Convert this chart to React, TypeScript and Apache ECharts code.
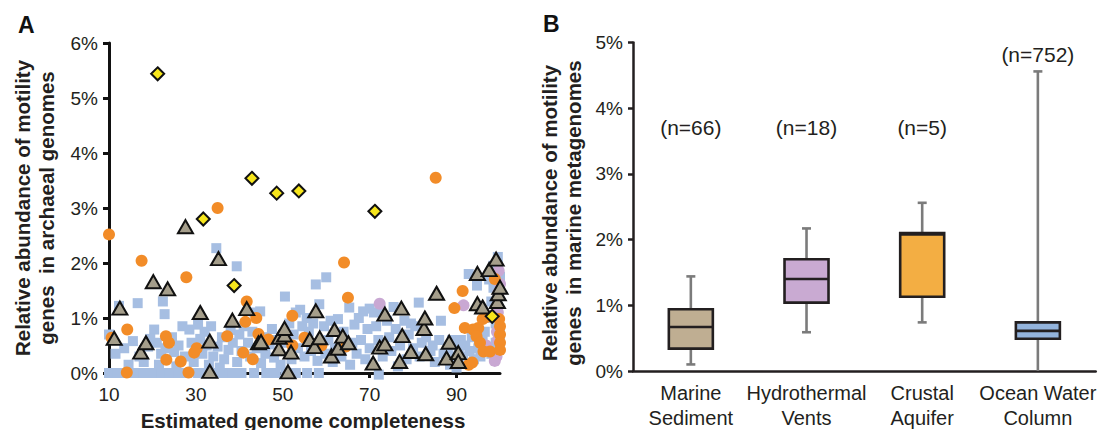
import React, { useEffect, useRef } from "react";
import * as echarts from "echarts";

// ---------- Panel A data: [estimated genome completeness, % motility genes] ----------
const xTickValues = [10, 30, 50, 70, 90];

const blueSquares: number[][] = [
  [10, 0], [12, 0], [14, 0], [16, 0], [18, 0], [20, 0], [22, 0], [24, 0], [26, 0], [28, 0],
  [30.5, 0], [32.5, 0], [34.5, 0], [36.5, 0], [38.5, 0], [40.5, 0], [43.4, 0], [46.2, 0],
  [48.3, 0], [50.6, 0], [53, 0], [55.6, 0], [58.3, 0], [72.1, -0.03],
  [10, 0.7], [12.3, 1.22], [16.6, 1.27], [13.5, 0.45], [15.5, 0.58], [17, 0.3], [19, 0.48],
  [20.4, 0.79], [18, 0.2], [11.5, 0.35], [14.5, 0.15], [19.5, 0.62],
  [22.4, 1.3], [22.8, 1.07], [21, 0.55], [22, 0.35], [23, 0.45], [24.5, 0.65], [25, 0.38],
  [26, 0.5], [26.9, 0.85], [27.5, 0.3], [28.5, 0.79], [29, 0.55], [29.5, 0.2], [21.5, 0.15], [25.5, 0.12],
  [30.5, 0.88], [31, 0.62], [31.5, 0.35], [32, 0.75], [32.5, 0.5], [33.5, 0.85], [34, 0.3],
  [34.7, 2.27], [35, 0.48], [36, 0.65], [36.5, 0.25], [37.5, 0.42], [38, 0.78], [38.5, 0.55],
  [39.4, 1.94], [39.5, 0.2], [40, 0.7], [35.5, 0.1], [33, 0.15],
  [40.5, 0.4], [41, 0.85], [42, 0.55], [42.5, 0.3], [43, 0.75], [43.5, 1.1], [44, 0.45],
  [45, 0.18], [45.5, 0.65], [46, 0.35], [47, 0.52], [47.5, 0.8], [48, 0.28], [48.5, 0.6],
  [49.5, 0.15], [44.8, 1.12],
  [50.5, 1.39], [50.8, 0.55], [51.5, 0.9], [52, 0.25], [52.5, 0.7], [53, 1.1], [53.5, 0.45],
  [54, 1.15], [54.5, 0.85], [55, 0.3], [55.5, 1.0], [56, 0.75], [56.5, 0.4], [57, 0.9],
  [57.6, 1.61], [58, 0.22], [58.4, 1.25], [59, 0.55], [59.5, 0.85], [60, 1.74], [59.8, 0.35],
  [60.5, 0.6], [61, 0.95], [61.5, 0.2], [62, 0.45], [62.7, 0.98], [63.5, 0.3], [64, 0.75],
  [65.3, 1.19], [65.5, 0.15], [66, 0.55], [66.5, 0.88], [67, 0.35], [67.5, 1.0], [68, 0.6],
  [68.5, 1.12], [69, 0.25], [69.5, 0.8], [70, 1.17], [70, 0.45],
  [71, 1.1], [71.5, 0.85], [72, 0.6], [72.5, 1.15], [73, 0.3], [74, 0.95], [74.5, 0.65],
  [75, 0.4], [75.5, 1.2], [76, 0.8], [76.5, 0.12], [77, 0.5], [78, 0.95], [78.5, 0.25],
  [79, 0.7], [80, 0.45], [79.5, 0.9],
  [80.5, 0.85], [81.3, 1.28], [81.5, 0.3], [82, 0.55], [83, 0.65], [84, 0.4], [84.5, 0.5],
  [85, 0.2], [86, 0.6], [86.4, 0.95], [87, 0.35], [88, 0.45], [88.5, 0.15], [89, 0.6],
  [90, 0.1], [89.5, 0.3],
  [90.5, 0.45], [91, 0.6], [91.5, 0.3], [92, 0.5], [92.8, 1.8], [93, 0.4], [93.5, 0.65],
  [94, 0.25], [94.7, 1.59], [95, 0.45], [95.5, 0.3], [96, 0.6], [96.5, 0.75], [97, 0.45],
  [97.5, 1.0], [97.5, 1.7], [98, 0.35], [98, 1.3], [98.5, 1.55], [99, 0.55], [99, 0.9],
  [99.5, 2.11], [99.5, 1.86], [99.5, 1.2], [100, 0.7], [100, 1.75], [98.5, 1.95],
];

const lilacCircles: number[][] = [
  [72.3, 1.26], [91.6, 1.23], [99.7, 1.86], [100, 1.62], [99.6, 1.45], [99.5, 1.1],
  [99.3, 0.75], [96.8, 0.5], [99.2, 0.3], [98.8, 0.22], [99.5, 0.6],
];

const orangeCircles: number[][] = [
  [10, 2.52], [35, 3.0], [85.2, 3.55], [17.5, 2.04], [27.8, 1.74], [41.7, 1.3], [43.9, 1.0],
  [41.4, 0.93], [52.2, 1.04], [10.6, 0.64], [14.2, 0.79], [14.1, 0.01], [23.1, 0.67],
  [23.8, 0.55], [23.2, 0.24], [26.5, 0.21], [28.3, 0.01], [30.2, 0.45], [29.6, 0.37],
  [37.2, 0.67], [40.9, 0.37], [43.1, 0.25], [44.4, 0.71], [46.7, 0.61], [52.2, 0.5],
  [55.0, 0.64], [58.9, 0.5], [64.5, 0.48], [64.1, 2.01], [65.0, 1.37], [91.4, 1.49],
  [89.5, 1.18], [98.8, 1.71], [91.9, 0.82], [93.8, 0.79], [95.0, 0.82], [94.6, 0.67],
  [95.4, 0.55], [96.2, 0.39], [97.7, 0.39], [100, 0.85], [100, 0.7], [100, 0.55],
  [100, 0.42], [99.8, 0.98], [92.8, 0.15], [93.6, 0.19], [96.0, 0.98], [97.0, 1.02],
];

const triangles: number[][] = [
  [11.2, 0.63], [12.5, 1.18], [17.3, 0.38], [18.5, 0.55], [20.2, 1.66], [23.5, 1.53],
  [27.6, 2.66], [31.0, 1.1], [33.2, 0.58], [33.2, 0.03], [35.2, 2.08], [38.4, 0.96],
  [41.7, 1.17], [44.4, 0.55], [45.0, 0.57], [49.1, 0.44], [49.2, 0.65], [50.4, 0.69],
  [50.4, 0.81], [51.2, 0.02], [51.9, 0.38], [56.2, 0.61], [57.3, 0.48], [57.6, 1.13],
  [58.5, 0.64], [61.2, 0.31], [61.9, 0.79], [62.7, 0.45], [63.8, 0.67], [65.1, 0.55],
  [70.8, 0.18], [72.3, 0.47], [73.5, 0.53], [73.5, 1.07], [76.9, 0.21], [77.3, 1.18],
  [77.5, 0.68], [79.5, 0.39], [82.5, 0.81], [82.7, 1.0], [82.9, 0.35], [85.4, 1.45],
  [87.7, 0.27], [88.3, 0.56], [90.4, 0.37], [90.4, 0.21], [94.8, 1.81], [94.8, 1.26],
  [96.0, 1.2], [97.5, 1.88], [99.1, 2.07], [99.4, 1.3], [99.6, 1.44], [100, 1.56],
];

const diamonds: number[][] = [
  [21.2, 5.44], [31.7, 2.8], [38.8, 1.59], [42.9, 3.54], [48.6, 3.27], [53.7, 3.31],
  [71.2, 2.94], [98.2, 1.03],
];

// ---------- Panel B data: box plots (%) ----------
const envCategories = ["Marine\nSediment", "Hydrothermal\nVents", "Crustal\nAquifer", "Ocean Water\nColumn"];
const whiskerLow = [0.1, 0.59, 0.74, 0.0];
const quartile1 = [0.34, 1.04, 1.13, 0.49];
const medians = [0.67, 1.4, 2.08, 0.61];
const quartile3 = [0.94, 1.7, 2.1, 0.74];
const whiskerHigh = [1.44, 2.17, 2.56, 4.56];
const sampleLabels = ["(n=66)", "(n=18)", "(n=5)", "(n=752)"];

const boxFills = ["#bfae92", "#c9aad2", "#f3ae43", "#93b3dc"];
const FONT = '"Liberation Sans", Arial, Helvetica, sans-serif';
const INK = "#231f20";

export default function App() {
  const ref = useRef<HTMLDivElement>(null);

  useEffect(() => {
    document.body.style.margin = "0";
    if (!ref.current) return;
    const chart = echarts.init(ref.current, undefined, { renderer: "svg" });

    const boxData = envCategories.map((_, i) => [
      i, whiskerLow[i], quartile1[i], medians[i], quartile3[i], whiskerHigh[i],
    ]);

    const option: any = {
      animation: false,
      backgroundColor: "#ffffff",
      textStyle: { fontFamily: FONT },
      grid: [
        { left: 109, top: 43, width: 391, height: 330 },
        { left: 633, top: 42.5, width: 466, height: 332.5 },
      ],
      xAxis: [
        {
          gridIndex: 0,
          type: "value",
          min: 10,
          max: 100,
          interval: 20,
          splitLine: { show: false },
          axisLine: { show: true, lineStyle: { color: "#111", width: 3 } },
          axisTick: { show: true, length: 5, lineStyle: { color: "#111", width: 3 }, customValues: xTickValues },
          axisLabel: {
            color: INK, fontSize: 19, fontFamily: FONT, margin: 12, customValues: xTickValues,
          },
        },
        {
          gridIndex: 1,
          type: "category",
          data: envCategories,
          boundaryGap: true,
          axisLine: { show: true, lineStyle: { color: INK, width: 2.5 } },
          axisTick: { show: false },
          axisLabel: { color: INK, fontSize: 20, lineHeight: 25, fontFamily: FONT, margin: 9, interval: 0 },
        },
      ],
      yAxis: [
        {
          gridIndex: 0,
          type: "value",
          min: 0,
          max: 6,
          interval: 1,
          splitLine: { show: false },
          axisLine: { show: true, lineStyle: { color: "#111", width: 3 } },
          axisTick: { show: true, length: 6, lineStyle: { color: "#111", width: 3 } },
          axisLabel: { color: INK, fontSize: 19, fontFamily: FONT, margin: 11, formatter: "{value}%" },
        },
        {
          gridIndex: 1,
          type: "value",
          min: 0,
          max: 5,
          interval: 1,
          splitLine: { show: false },
          axisLine: { show: true, lineStyle: { color: INK, width: 2.5 } },
          axisTick: { show: true, length: 5, lineStyle: { color: INK, width: 2.5 } },
          axisLabel: { color: INK, fontSize: 19, fontFamily: FONT, margin: 10, formatter: "{value}%" },
        },
      ],
      series: [
        {
          type: "scatter", xAxisIndex: 0, yAxisIndex: 0, clip: false,
          symbol: "rect", symbolSize: 10, data: blueSquares,
          itemStyle: { color: "#a6bee2", opacity: 1 }, z: 2,
        },
        {
          type: "scatter", xAxisIndex: 0, yAxisIndex: 0, clip: false,
          symbol: "circle", symbolSize: 12, data: lilacCircles,
          itemStyle: { color: "#c9a8d3", opacity: 1 }, z: 3,
        },
        {
          type: "scatter", xAxisIndex: 0, yAxisIndex: 0, clip: false,
          symbol: "circle", symbolSize: 12, data: orangeCircles,
          itemStyle: { color: "#f28c28", opacity: 1 }, z: 4,
        },
        {
          type: "scatter", xAxisIndex: 0, yAxisIndex: 0, clip: false,
          symbol: "triangle", symbolSize: [15, 13], data: triangles,
          itemStyle: { color: "#a59e8b", borderColor: "#111", borderWidth: 2, opacity: 1 }, z: 5,
        },
        {
          type: "scatter", xAxisIndex: 0, yAxisIndex: 0, clip: false,
          symbol: "diamond", symbolSize: 13, data: diamonds,
          itemStyle: { color: "#f7e61c", borderColor: "#111", borderWidth: 2, opacity: 1 }, z: 6,
        },
        {
          type: "custom",
          xAxisIndex: 1,
          yAxisIndex: 1,
          data: boxData,
          clip: false,
          renderItem: (params: any, api: any) => {
            const i = api.value(0);
            const lo = api.value(1);
            const hi = api.value(5);
            const pLo = api.coord([i, lo]);
            const pQ1 = api.coord([i, api.value(2)]);
            const pMed = api.coord([i, api.value(3)]);
            const pQ3 = api.coord([i, api.value(4)]);
            const pHi = api.coord([i, hi]);
            const pLab = api.coord([i, Math.max(3.7, hi + 0.25)]);
            const x = pMed[0];
            const half = 22;
            const cap = 4.5;
            const whisk = { stroke: "#7b7b7b", lineWidth: 2.6 };
            const children: any[] = [
              { type: "line", shape: { x1: x, y1: pQ3[1], x2: x, y2: pHi[1] }, style: whisk },
              { type: "line", shape: { x1: x, y1: pLo[1], x2: x, y2: pQ1[1] }, style: whisk },
              { type: "line", shape: { x1: x - cap, y1: pHi[1], x2: x + cap, y2: pHi[1] }, style: whisk },
            ];
            if (lo > 0) {
              children.push({ type: "line", shape: { x1: x - cap, y1: pLo[1], x2: x + cap, y2: pLo[1] }, style: whisk });
            }
            children.push({
              type: "rect",
              shape: { x: x - half, y: pQ3[1], width: half * 2, height: pQ1[1] - pQ3[1] },
              style: { fill: boxFills[i], stroke: INK, lineWidth: 2.6 },
            });
            children.push({
              type: "line",
              shape: { x1: x - half, y1: pMed[1], x2: x + half, y2: pMed[1] },
              style: { stroke: INK, lineWidth: 2.6 },
            });
            children.push({
              type: "text",
              style: {
                text: sampleLabels[i], x: x, y: pLab[1], align: "center", verticalAlign: "middle",
                fontSize: 21, fontFamily: FONT, fill: INK,
              },
            });
            return { type: "group", children };
          },
        },
      ],
      graphic: [
        {
          type: "text", x: 18, y: 25,
          style: { text: "A", fontSize: 23, fontWeight: "bold", fontFamily: FONT, fill: "#111", verticalAlign: "middle" },
        },
        {
          type: "text", x: 543, y: 23.5,
          style: { text: "B", fontSize: 23, fontWeight: "bold", fontFamily: FONT, fill: "#111", verticalAlign: "middle" },
        },
        {
          type: "text", x: 34.5, y: 208, rotation: Math.PI / 2,
          style: {
            text: "Relative abundance of motility\ngenes  in archaeal genomes",
            align: "center", verticalAlign: "middle", fontSize: 20.5, lineHeight: 24,
            fontWeight: "bold", fontFamily: FONT, fill: INK,
          },
        },
        {
          type: "text", x: 561.5, y: 213, rotation: Math.PI / 2,
          style: {
            text: "Relative abundance of motility\ngenes  in marine metagenomes",
            align: "center", verticalAlign: "middle", fontSize: 20.5, lineHeight: 24,
            fontWeight: "bold", fontFamily: FONT, fill: INK,
          },
        },
        {
          type: "text", x: 303, y: 420,
          style: {
            text: "Estimated genome completeness", align: "center", verticalAlign: "middle",
            fontSize: 20.5, fontWeight: "bold", fontFamily: FONT, fill: INK,
          },
        },
      ],
    };

    chart.setOption(option);
    return () => {
      chart.dispose();
    };
  }, []);

  return (
    <div
      ref={ref}
      style={{ position: "absolute", left: 0, top: 0, width: 1099, height: 430 }}
    />
  );
}
